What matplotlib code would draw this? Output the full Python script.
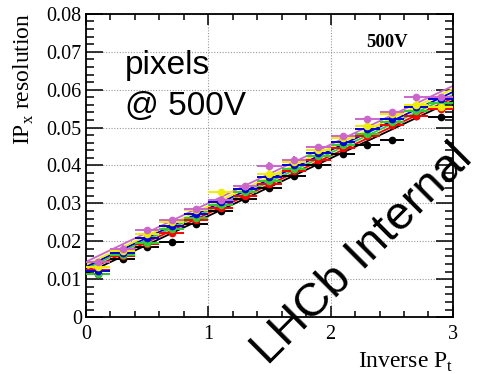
import numpy as np
import matplotlib.pyplot as plt
from matplotlib.ticker import MultipleLocator

# bin centres in inverse pT and half bin width
x_bins = [0.1, 0.3, 0.5, 0.7, 0.9, 1.1, 1.3, 1.5, 1.7, 1.9, 2.1, 2.3, 2.5, 2.7, 2.9]
x_half = 0.1

colours = ["black", "red", "#33cc33", "#0000dd", "#eeee00", "#cc66cc"]

res_black = [0.0113, 0.0153, 0.0185, 0.0198, 0.0245, 0.0280, 0.0312, 0.0340, 0.0372, 0.0400, 0.0430, 0.0455, 0.0467, 0.0530, 0.0527]
res_red = [0.0125, 0.0160, 0.0192, 0.0222, 0.0255, 0.0288, 0.0320, 0.0352, 0.0385, 0.0414, 0.0445, 0.0478, 0.0507, 0.0530, 0.0550]
res_green = [0.0115, 0.0165, 0.0195, 0.0233, 0.0262, 0.0295, 0.0330, 0.0360, 0.0390, 0.0425, 0.0455, 0.0482, 0.0515, 0.0545, 0.0565]
res_blue = [0.0122, 0.0170, 0.0208, 0.0240, 0.0272, 0.0305, 0.0337, 0.0370, 0.0400, 0.0432, 0.0462, 0.0495, 0.0522, 0.0555, 0.0575]
res_yellow = [0.0133, 0.0175, 0.0218, 0.0250, 0.0282, 0.0330, 0.0345, 0.0378, 0.0408, 0.0440, 0.0472, 0.0505, 0.0535, 0.0560, 0.0555]
res_magenta = [0.0145, 0.0180, 0.0230, 0.0256, 0.0285, 0.0310, 0.0345, 0.0399, 0.0415, 0.0449, 0.0478, 0.0522, 0.0540, 0.0580, 0.0580]
series = [res_black, res_red, res_green, res_blue, res_yellow, res_magenta]
res_err = 0.0009

# fitted straight lines: value at inverse pT = 0 and 3
fit_x = [0, 3]
fit_start = [0.0115, 0.0122, 0.0128, 0.0133, 0.0138, 0.0146]
fit_end = [0.0571, 0.0578, 0.0586, 0.0594, 0.0602, 0.0610]

plt.rcParams["font.family"] = ["Liberation Serif", "DejaVu Serif"]
fig = plt.figure(figsize=(4.86, 3.74), dpi=100)
ax = fig.add_axes([0.177, 0.152, 0.755, 0.811])

for c, y, y0, y1 in zip(colours, series, fit_start, fit_end):
    ax.plot(fit_x, [y0, y1], color=c, lw=1.3, zorder=2)
for c, y in zip(colours, series):
    ax.errorbar(x_bins, y, xerr=x_half, yerr=res_err, fmt="o", color=c,
                ms=4.5, lw=1.4, capsize=0, zorder=3)

ax.set_xlim(0, 3)
ax.set_ylim(0, 0.08)
ax.xaxis.set_major_locator(MultipleLocator(1))
ax.xaxis.set_minor_locator(MultipleLocator(0.2))
ax.yaxis.set_major_locator(MultipleLocator(0.01))
ax.yaxis.set_minor_locator(MultipleLocator(0.002))
ax.yaxis.set_major_formatter(plt.FuncFormatter(lambda v, p: "0" if v == 0 else f"{v:.2f}"))
ax.tick_params(which="both", direction="in", top=True, right=True, labelsize=14.5, width=1.1)
ax.tick_params(axis="y", which="major", length=12, pad=3)
ax.tick_params(axis="y", which="minor", length=6)
ax.tick_params(axis="x", which="major", length=8, pad=6)
ax.tick_params(axis="x", which="minor", length=4)
for s in ax.spines.values():
    s.set_linewidth(1.3)
ax.grid(True, which="major", color="#999999", linestyle=(0, (1, 1.5)), lw=0.8)

fig.text(24 / 486, 1 - 13 / 374, "IP$_\\mathregular{x}$ resolution", rotation=90,
         ha="center", va="top", fontsize=17)
fig.text(453 / 486, 1 - 368 / 374, "Inverse P$_\\mathregular{t}$", ha="right", va="baseline",
         fontsize=17)

fig.text(125 / 486, 1 - 74 / 374, "pixels", family="Liberation Sans", fontsize=24, va="baseline")
fig.text(125 / 486, 1 - 115 / 374, "@ 500V", family="Liberation Sans", fontsize=24, va="baseline")
fig.text(366 / 486, 1 - 47 / 374, "500V", fontsize=13.5, fontweight="bold", va="baseline")

fig.text(362 / 486, 1 - 255 / 374, "LHCb Internal", family="Liberation Sans", fontsize=34,
         rotation=45, ha="center", va="center", rotation_mode="anchor")

fig.savefig("out.png", dpi=100)
